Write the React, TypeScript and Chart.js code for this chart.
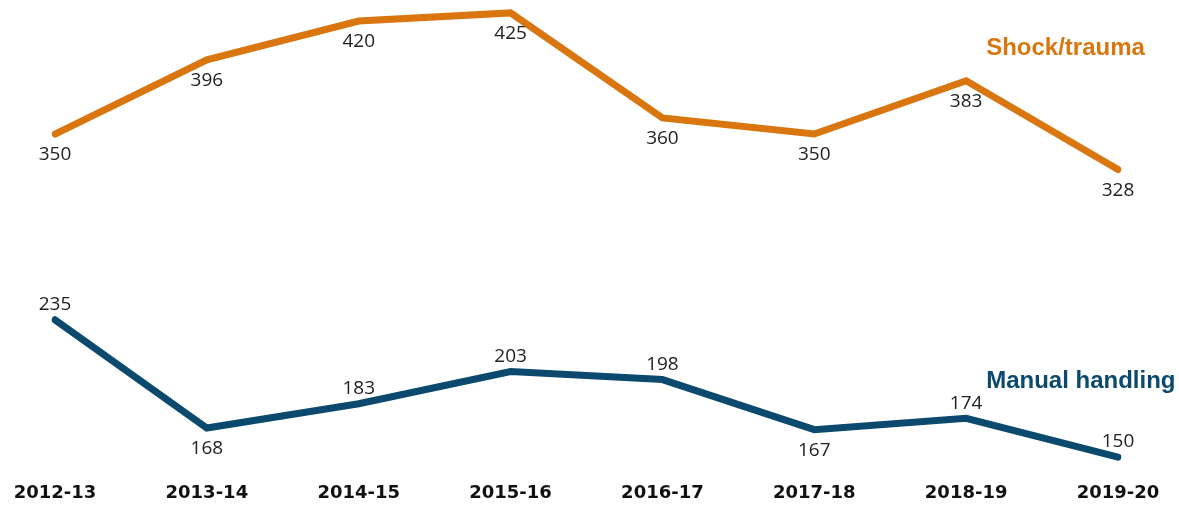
import React, { useEffect, useRef } from "react";
import { Chart, registerables } from "chart.js";

Chart.register(...registerables);

const years = ["2012-13", "2013-14", "2014-15", "2015-16", "2016-17", "2017-18", "2018-19", "2019-20"];
const shockTrauma = [350, 396, 420, 425, 360, 350, 383, 328];
const manualHandling = [235, 168, 183, 203, 198, 167, 174, 150];
const shockLabelSide = ["below", "below", "below", "below", "below", "below", "below", "below"];
const manualLabelSide = ["above", "below", "above", "above", "above", "below", "above", "above"];
const seriesNames = ["Shock/trauma", "Manual handling"];

const ORANGE = "#D9760F";
const NAVY = "#0B4A6E";

const labelPlugin = {
  id: "valueLabels",
  afterDatasetsDraw(chart: any) {
    const ctx = chart.ctx;
    ctx.save();
    ctx.font = "19px 'Open Sans'";
    ctx.fillStyle = "#222";
    ctx.textAlign = "center";
    ctx.textBaseline = "middle";
    const sides = [shockLabelSide, manualLabelSide];
    chart.data.datasets.forEach((ds: any, di: number) => {
      const meta = chart.getDatasetMeta(di);
      meta.data.forEach((pt: any, i: number) => {
        const side = sides[di][i];
        const y = side === "above" ? pt.y - 15 : pt.y + 21;
        ctx.fillText(String(ds.data[i]), pt.x, y);
      });
    });
    // series names
    const xs = chart.scales.x;
    const nameX = xs.getPixelForValue(6) + 20;
    ctx.textAlign = "left";
    ctx.font = "bold 24px 'Liberation Sans'";
    ctx.fillStyle = ORANGE;
    ctx.fillText(seriesNames[0], nameX, 48);
    ctx.fillStyle = NAVY;
    ctx.fillText(seriesNames[1], nameX, 381);
    ctx.restore();
  },
};

export default function App() {
  const ref = useRef<HTMLCanvasElement>(null);
  useEffect(() => {
    document.body.style.margin = "0";
    const chart = new Chart(ref.current!, {
      type: "line",
      data: {
        labels: years,
        datasets: [
          {
            label: seriesNames[0],
            data: shockTrauma,
            borderColor: ORANGE,
            borderWidth: 7,
            pointRadius: 0,
            borderCapStyle: "round",
            borderJoinStyle: "miter",
            tension: 0,
          },
          {
            label: seriesNames[1],
            data: manualHandling,
            borderColor: NAVY,
            borderWidth: 7,
            pointRadius: 0,
            borderCapStyle: "round",
            borderJoinStyle: "miter",
            tension: 0,
          },
        ],
      },
      options: {
        animation: false,
        responsive: false,
        maintainAspectRatio: false,
        layout: { padding: { left: 55, right: 61, top: 0, bottom: 0 } },
        plugins: { legend: { display: false }, tooltip: { enabled: false } },
        scales: {
          x: {
            offset: false,
            grid: { display: false },
            border: { display: false },
            afterFit: (scale: any) => {
              scale.height = 35;
            },
            ticks: {
              color: "#111",
              font: { family: "'DejaVu Sans'", size: 18, weight: "bold" },
              padding: 5,
              maxRotation: 0,
              autoSkip: false,
            },
          },
          y: {
            display: false,
            min: 142,
            max: 433,
          },
        },
      },
      plugins: [labelPlugin],
    });
    return () => chart.destroy();
  }, []);
  return (
    <div style={{ width: 1179, height: 505 }}>
      <canvas ref={ref} width={1179} height={505} style={{ width: 1179, height: 505 }} />
    </div>
  );
}
